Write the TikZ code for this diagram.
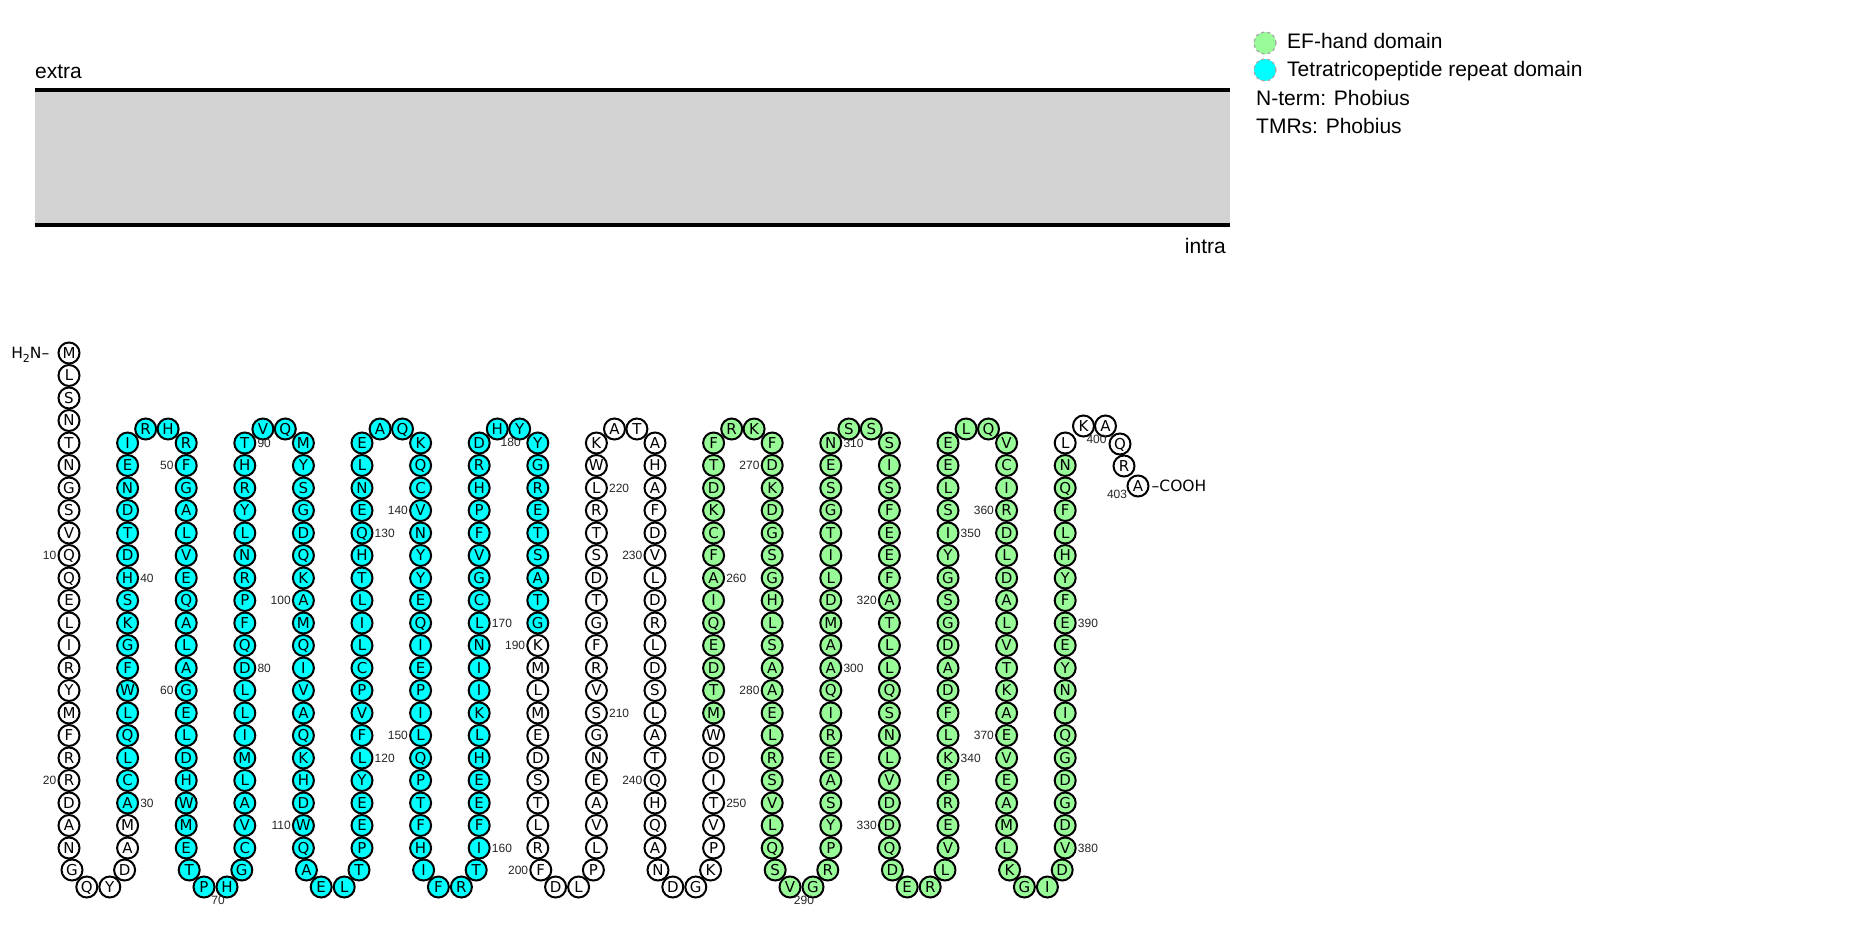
\documentclass[tikz,border=0pt]{standalone}
\usepackage{fontspec}
\setmainfont{Liberation Sans}
\newfontfamily\resfont{DejaVu Sans}
\definecolor{efgreen}{HTML}{98FB98}
\definecolor{tprcyan}{HTML}{00FFFF}
\definecolor{memgray}{HTML}{D3D3D3}
\newcommand\pickfill[1]{\ifnum#1<30 white\else\ifnum#1<190 tprcyan\else\ifnum#1<254 white\else\ifnum#1<398 efgreen\else white\fi\fi\fi\fi}
\tikzset{
  res/.style={circle, draw=black, line width=2pt, minimum size=21pt, inner sep=0pt,
    font=\resfont\fontsize{15}{15}\selectfont, text height=10.9pt, text depth=0pt},
  lbl/.style={inner sep=0pt, font=\fontsize{12}{12}\selectfont, text=black!85},
  txt/.style={inner sep=0pt, font=\fontsize{21}{24}\selectfont},
  termtxt/.style={inner sep=0pt, font=\resfont\fontsize{15.5}{15.5}\selectfont, text height=11.3pt, text depth=0pt},
  legdot/.style={circle, minimum size=22pt, inner sep=0pt, draw=gray!70, dashed, line width=1.2pt},
}
\newcommand\putres[4]{%
  \edef\resfill{\pickfill{#1}}%
  \pgfmathsetmacro\resx{#3}%
  \pgfmathsetmacro\resy{#4}%
  \edef\restmp{\noexpand\node[res,fill=\resfill] (r#1) at (\resx,\resy) {#2};}%
  \restmp}
\newcommand\colres[4]{% #1 column, #2 first number, #3 direction (1 down, -1 up), #4 letters
  \foreach \L [count=\m from 0] in {#4} {%
    \pgfmathtruncatemacro\n{#2+\m}%
    \putres{\n}{\L}{69+58.6*#1}{645.5+#3*(22.5*\m-202.5)}%
  }}
\newcommand\botturn[6]{% #1 left column, #2 first number, #3-#6 letters
  \pgfmathsetmacro\qxa{69+58.6*#1}%
  \pgfmathsetmacro\qxb{69+58.6*(#1+1)}%
  \pgfmathsetmacro\qcc{(\qxa+\qxb)/2}%
  \pgfmathtruncatemacro\qna{#2}\pgfmathtruncatemacro\qnb{#2+1}%
  \pgfmathtruncatemacro\qnc{#2+2}\pgfmathtruncatemacro\qnd{#2+3}%
  \putres{\qna}{#3}{\qxa+3}{870}%
  \putres{\qnb}{#4}{\qcc-11.5}{887}%
  \putres{\qnc}{#5}{\qcc+11.5}{887}%
  \putres{\qnd}{#6}{\qxb-3}{870}}
\newcommand\topturn[4]{% #1 left column, #2 first number, #3 #4 letters
  \pgfmathsetmacro\qcc{69+58.6*#1+29.3}%
  \pgfmathtruncatemacro\qna{#2}\pgfmathtruncatemacro\qnb{#2+1}%
  \putres{\qna}{#3}{\qcc-11.2}{429}%
  \putres{\qnb}{#4}{\qcc+11.2}{429}}
\begin{document}
\begin{tikzpicture}[x=1pt,y=-1pt]
\useasboundingbox (0,0) rectangle (1855,936);
\fill[white] (0,0) rectangle (1855,936);
% membrane
\fill[memgray] (35,90) rectangle (1230,225);
\draw[line width=4.5pt] (35,90) -- (1230,90);
\draw[line width=4.5pt] (35,225) -- (1230,225);
\node[txt, anchor=base west] (extra) at (35,79) {extra};
\node[txt, anchor=base east] (intra) at (1226,254) {intra};
% legend
\node[legdot, fill=efgreen] (legef) at (1265,43) {};
\node[legdot, fill=tprcyan] (legtpr) at (1265,70) {};
\node[txt, anchor=base west] (legeft) at (1287,48.5) {EF-hand domain};
\node[txt, anchor=base west] (legtprt) at (1287,76.5) {Tetratricopeptide repeat domain};
\node[txt, anchor=base west] (ntermt) at (1256,106) {N-term: Phobius};
\node[txt, anchor=base west] (tmrst) at (1256,133.5) {TMRs: Phobius};
% residues
\foreach \L [count=\m from 0] in {M,L,S,N,T,N,G,S,V,Q,Q,E,L,I,R,Y,M,F,R,R,D,A,N} {%
  \pgfmathtruncatemacro\n{1+\m}%
  \putres{\n}{\L}{69}{353+22.5*\m}%
}
\botturn{0}{24}{G}{Q}{Y}{D}
\colres{1}{28}{-1}{A,M,A,C,L,Q,L,W,F,G,K,S,H,D,T,D,N,E,I}
\topturn{1}{47}{R}{H}
\colres{2}{49}{1}{R,F,G,A,L,V,E,Q,A,L,A,G,E,L,D,H,W,M,E}
\botturn{2}{68}{T}{P}{H}{G}
\colres{3}{72}{-1}{C,V,A,L,M,I,L,L,D,Q,F,P,R,N,L,Y,R,H,T}
\topturn{3}{91}{V}{Q}
\colres{4}{93}{1}{M,Y,S,G,D,Q,K,A,M,Q,I,V,A,Q,K,H,D,W,Q}
\botturn{4}{112}{A}{E}{L}{T}
\colres{5}{116}{-1}{P,E,E,Y,L,F,V,P,C,L,I,L,T,H,Q,E,N,L,E}
\topturn{5}{135}{A}{Q}
\colres{6}{137}{1}{K,Q,C,V,N,Y,Y,E,Q,I,E,P,I,L,Q,P,T,F,H}
\botturn{6}{156}{I}{F}{R}{T}
\colres{7}{160}{-1}{I,F,E,E,H,L,K,I,I,N,L,C,G,V,F,P,H,R,D}
\topturn{7}{179}{H}{Y}
\colres{8}{181}{1}{Y,G,R,E,T,S,A,T,G,K,M,L,M,E,D,S,T,L,R}
\botturn{8}{200}{F}{D}{L}{P}
\colres{9}{204}{-1}{L,V,A,E,N,G,S,V,R,F,G,T,D,S,T,R,L,W,K}
\topturn{9}{223}{A}{T}
\colres{10}{225}{1}{A,H,A,F,D,V,L,D,R,L,D,S,L,A,T,Q,H,Q,A}
\botturn{10}{244}{N}{D}{G}{K}
\colres{11}{248}{-1}{P,V,T,I,D,W,M,T,D,E,Q,I,A,F,C,K,D,T,F}
\topturn{11}{267}{R}{K}
\colres{12}{269}{1}{F,D,K,D,G,S,G,H,L,S,A,A,E,L,R,S,V,L,Q}
\botturn{12}{288}{S}{V}{G}{R}
\colres{13}{292}{-1}{P,Y,S,A,E,R,I,Q,A,A,M,D,L,I,T,G,S,E,N}
\topturn{13}{311}{S}{S}
\colres{14}{313}{1}{S,I,S,F,E,E,F,A,T,L,L,Q,S,N,L,V,D,D,Q}
\botturn{14}{332}{D}{E}{R}{L}
\colres{15}{336}{-1}{V,E,R,F,K,L,F,D,A,D,G,S,G,Y,I,S,L,E,E}
\topturn{15}{355}{L}{Q}
\colres{16}{357}{1}{V,C,I,R,D,L,D,A,L,V,T,K,A,E,V,E,A,M,L}
\botturn{16}{376}{K}{G}{I}{D}
\colres{17}{380}{-1}{V,D,G,D,G,Q,I,N,Y,E,E,F,Y,H,L,F,Q,N,L}
\putres{399}{K}{1083.5}{426}
\putres{400}{A}{1105.5}{426}
\putres{401}{Q}{1120}{444}
\putres{402}{R}{1124}{466}
\putres{403}{A}{1138}{486}
% termini
\node[termtxt, anchor=east] (nterm) at ([xshift=-8pt]r1.west) {H\raisebox{-3.5pt}{\fontsize{11}{11}\selectfont 2}N–};
\node[termtxt, anchor=west] (cterm) at ([xshift=2pt]r403.east) {–COOH};
% position labels
\foreach \n in {30,40,80,90,120,130,160,170,210,220,250,260,300,310,340,350,380,390}
  \node[lbl, anchor=west] (l\n) at ([xshift=1pt]r\n.east) {\n};
\foreach \n in {10,20,50,60,100,110,140,150,190,200,230,240,270,280,320,330,360,370}
  \node[lbl, anchor=east] (l\n) at ([xshift=-1pt]r\n.west) {\n};
\foreach \n in {70,180,290,400}
  \node[lbl] (l\n) at ([shift={(-9,13)}]r\n.center) {\n};
\node[lbl] (l403) at ([shift={(-21,8)}]r403.center) {403};
\end{tikzpicture}
\end{document}
